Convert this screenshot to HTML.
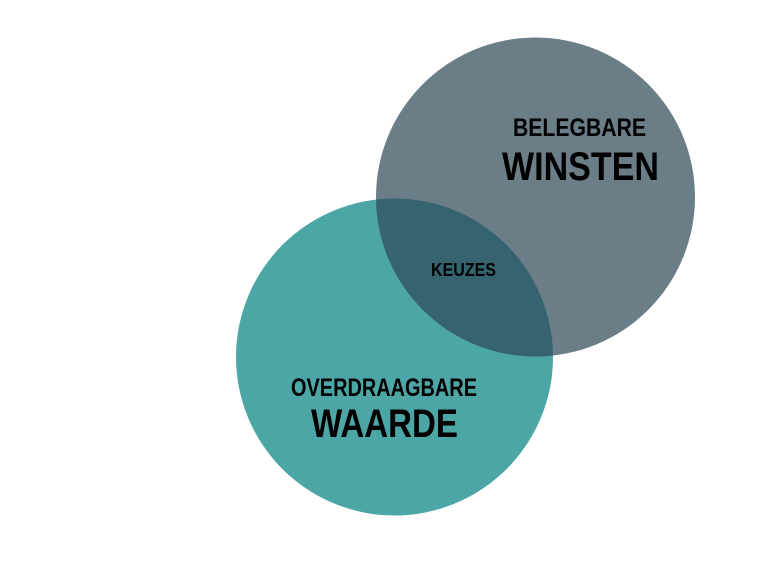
<!DOCTYPE html>
<html><head><style>html,body{margin:0;padding:0;background:#fff;width:768px;height:576px;overflow:hidden}</style></head>
<body>
<svg width="768" height="576" viewBox="0 0 768 576" xmlns="http://www.w3.org/2000/svg">
<defs><clipPath id="c"><circle cx="535.5" cy="197" r="159.5"/></clipPath></defs>
<circle cx="394.5" cy="357" r="158.5" fill="#4da6a6"/>
<circle cx="535.5" cy="197" r="159.5" fill="#6b7e88"/>
<circle cx="394.5" cy="357" r="158.5" fill="#35636f" clip-path="url(#c)"/>
<g font-family="Liberation Sans, sans-serif" font-weight="bold" fill="#000">
<text x="513" y="136" font-size="25" textLength="133" lengthAdjust="spacingAndGlyphs">BELEGBARE</text>
<text x="502" y="180" font-size="40" textLength="157" lengthAdjust="spacingAndGlyphs">WINSTEN</text>
<text x="431" y="276" font-size="18" textLength="65" lengthAdjust="spacingAndGlyphs">KEUZES</text>
<text x="291" y="396" font-size="25" textLength="186" lengthAdjust="spacingAndGlyphs">OVERDRAAGBARE</text>
<text x="311" y="437" font-size="40" textLength="147" lengthAdjust="spacingAndGlyphs">WAARDE</text>
</g>
</svg>
</body></html>
